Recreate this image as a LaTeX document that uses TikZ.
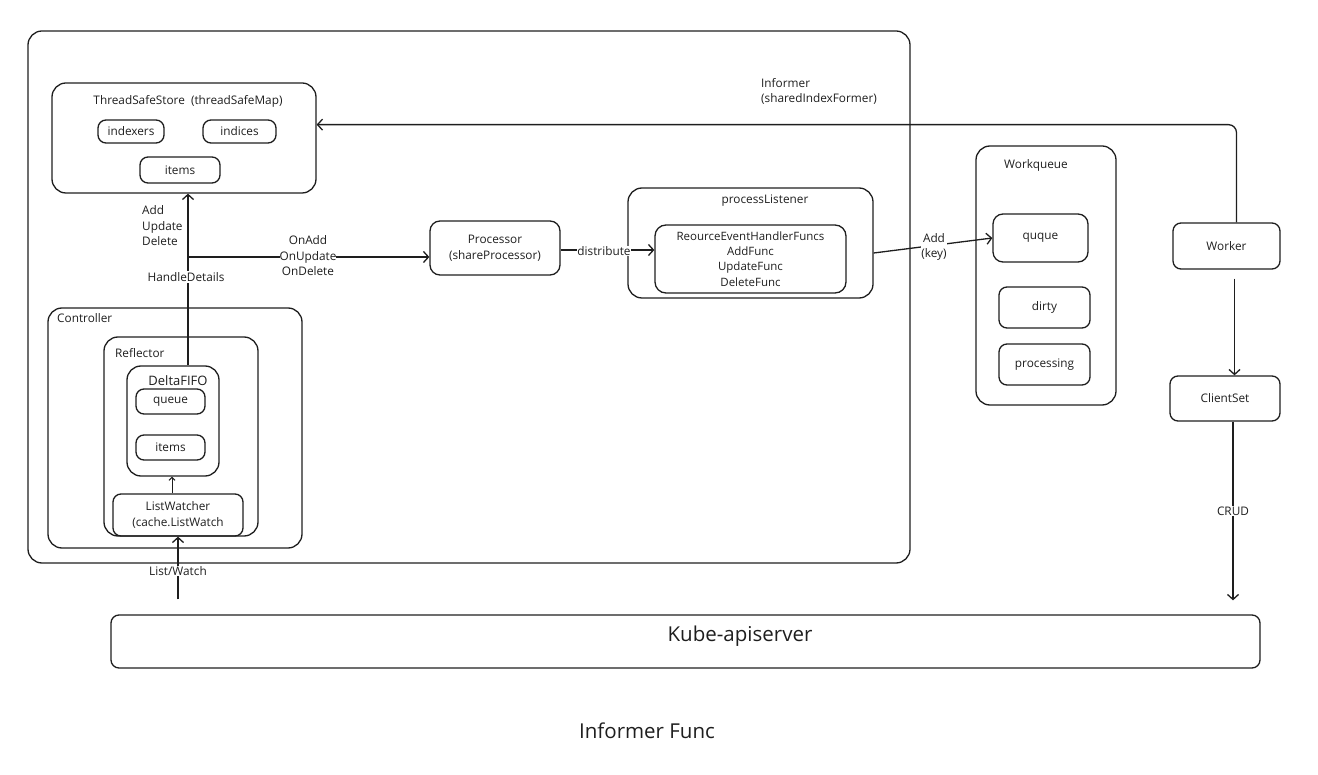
\documentclass[tikz,border=0pt]{standalone}
\usepackage{fontspec}
\setmainfont{Open Sans}
\usetikzlibrary{arrows.meta,calc}
\definecolor{ink}{HTML}{1E1E1E}
\begin{document}
\begin{tikzpicture}[x=1pt,y=-1pt,
  box/.style={draw=ink,line width=1.3pt,rounded corners=8pt,inner sep=0pt},
  bigbox/.style={box,rounded corners=14pt},
  lbl/.style={font=\fontsize{11.8}{15.5}\selectfont,text=ink,inner sep=1pt,align=center},
  biglbl/.style={font=\fontsize{20.5}{24}\selectfont,text=ink,inner sep=1pt},
  gap/.style={fill=white},
  ln/.style={draw=ink,line width=1.3pt},
  arr/.style={ln,-{Straight Barb[length=5pt,width=11pt,line width=1.3pt]}},
  smallarr/.style={draw=ink,line width=1pt,-{Straight Barb[length=3pt,width=6pt,line width=1pt]}}
]
\useasboundingbox (0,0) rectangle (1318,775);

% ---- Informer container ----
\node[bigbox,minimum width=882pt,minimum height=532pt] (informer) at (469,297) {};
\node[lbl,align=left,anchor=north west] (informertitle) at (760,77) {Informer\\(sharedIndexFormer)};

% ---- ThreadSafeStore ----
\node[bigbox,minimum width=264pt,minimum height=110pt] (tss) at (184,138) {};
\node[lbl] (tsstitle) at (188,101) {ThreadSafeStore\ \ (threadSafeMap)};
\node[box,minimum width=66pt,minimum height=23pt] (indexers) at (131,131.5) {};
\node[lbl] at (indexers) {indexers};
\node[box,minimum width=73pt,minimum height=23pt] (indices) at (239.5,131.5) {};
\node[lbl] at (indices) {indices};
\node[box,minimum width=80pt,minimum height=26pt] (tssitems) at (180,170) {};
\node[lbl] at (tssitems) {items};

% ---- Processor ----
\node[box,minimum width=130pt,minimum height=54pt,rounded corners=10pt] (processor) at (495,248) {};
\node[lbl] at (processor) {Processor\\(shareProcessor)};

% ---- processListener ----
\node[bigbox,minimum width=245pt,minimum height=110pt] (plistener) at (750.5,243) {};
\node[lbl] (pltitle) at (765,201) {processListener};
\node[box,minimum width=191pt,minimum height=68pt,rounded corners=11pt] (handlers) at (750.5,259) {};
\node[lbl,font=\fontsize{11.5}{15.3}\selectfont] at (handlers) {ReourceEventHandlerFuncs\\AddFunc\\UpdateFunc\\DeleteFunc};

% ---- Workqueue ----
\node[bigbox,minimum width=140pt,minimum height=259pt] (workqueue) at (1046,275.5) {};
\node[lbl] (wqtitle) at (1036,165) {Workqueue};
\node[box,minimum width=95pt,minimum height=48pt,rounded corners=10pt] (ququebox) at (1040.5,238) {};
\node[lbl] at (ququebox) {quque};
\node[box,minimum width=91pt,minimum height=41pt] (dirty) at (1044.5,307.5) {};
\node[lbl] at (dirty) {dirty};
\node[box,minimum width=91pt,minimum height=41pt] (processing) at (1044.5,364.5) {};
\node[lbl] at (processing) {processing};

% ---- Worker / ClientSet ----
\node[box,minimum width=107pt,minimum height=46pt] (worker) at (1226.5,246) {};
\node[lbl] at (worker) {Worker};
\node[box,minimum width=110pt,minimum height=45pt] (clientset) at (1225,398.5) {};
\node[lbl] at (clientset) {ClientSet};

% ---- Controller / Reflector / DeltaFIFO ----
\node[bigbox,minimum width=254pt,minimum height=240pt] (controller) at (175,428) {};
\node[lbl,anchor=west] (ctltitle) at (56,318) {Controller};
\node[bigbox,minimum width=154pt,minimum height=199pt] (reflector) at (181,436.5) {};
\node[lbl,anchor=west] (refltitle) at (114,353) {Reflector};
\node[bigbox,minimum width=92pt,minimum height=110pt] (deltafifo) at (173,421) {};
\node[lbl,font=\fontsize{13}{15}\selectfont] (dftitle) at (178,381) {DeltaFIFO};
\node[box,minimum width=69pt,minimum height=25pt] (dfqueue) at (170.5,401.5) {};
\node[lbl] at (dfqueue) {queue};
\node[box,minimum width=69pt,minimum height=25pt] (dfitems) at (170.5,447.5) {};
\node[lbl] at (dfitems) {items};
\node[box,minimum width=130pt,minimum height=42pt] (listwatcher) at (178,515) {};
\node[lbl,font=\fontsize{11.8}{16}\selectfont] at (listwatcher) {ListWatcher\\(cache.ListWatch};

% ---- Kube-apiserver ----
\node[box,minimum width=1149pt,minimum height=53pt] (apiserver) at (685.5,641.5) {};
\node[biglbl] at (740,636) {Kube-apiserver};

% ---- caption ----
\node[biglbl] (caption) at (647,731) {Informer Func};

% ---- connectors ----
\coordinate (jn) at (188,257);
\draw[arr] (jn |- deltafifo.north) -- (jn |- tss.south);
\node[lbl,align=left,anchor=west] at (141,226) {Add\\Update\\Delete};
\node[lbl,gap] at (186,277) {HandleDetails};

\draw[arr] (jn) -- (jn -| processor.west);
\node[lbl,gap,inner sep=0pt] at (308,256) {OnAdd\\OnUpdate\\OnDelete};

\draw[arr] ([yshift=-2pt]processor.east) -- ([yshift=-2pt]processor.east -| handlers.west);
\node[lbl,gap,inner sep=0.5pt] at (604,251) {distribute};

\draw[arr] ([yshift=-10pt]plistener.east) -- (ququebox.west);
\node[lbl,gap,inner sep=0.5pt] at (934,247) {Add\\(key)};

\draw[arr,rounded corners=8pt] ([xshift=10pt]worker.north) |- ($(tss.north east)!0.38!(tss.south east)$);

\draw[arr,shorten <=9pt] ([xshift=8pt]worker.south) -- ([xshift=8pt]worker.south |- clientset.north);
\draw[arr,shorten >=14pt] ([xshift=8pt]clientset.south) -- ([xshift=8pt]clientset.south |- apiserver.north);
\node[lbl,gap] at (1233,511) {CRUD};

\draw[arr,shorten <=15pt] (listwatcher.south |- apiserver.north) -- (listwatcher.south);
\node[lbl,gap,inner sep=0.5pt] at (178,571) {List/Watch};

\draw[smallarr] ([xshift=-6pt]listwatcher.north) -- ([xshift=-6pt]listwatcher.north |- deltafifo.south);
\end{tikzpicture}
\end{document}
